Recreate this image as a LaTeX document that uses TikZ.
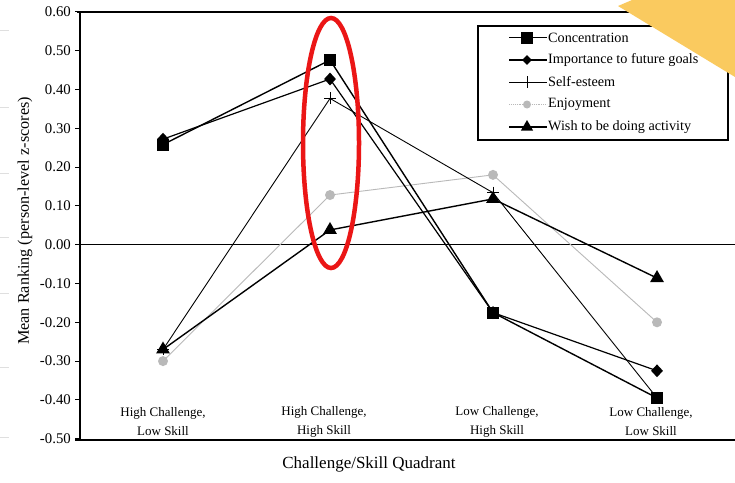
\documentclass[tikz,border=0pt]{standalone}
\usepackage{fontspec}
\setmainfont{Liberation Serif}
\usetikzlibrary{shapes.geometric}
\begin{document}
\begin{tikzpicture}[x=1pt,y=-1pt,
  sqm/.style={rectangle,fill=black,minimum size=12pt,inner sep=0pt},
  diam/.style={diamond,fill=black,minimum width=12pt,minimum height=13pt,inner sep=0pt},
  trim/.style={regular polygon,regular polygon sides=3,fill=black,minimum size=16pt,inner sep=0pt},
  enjm/.style={circle,fill=gray!55,minimum size=10pt,inner sep=0pt},
  plusm/.style={inner sep=0pt,minimum size=12pt,path picture={\draw[line width=1pt] (path picture bounding box.west)--(path picture bounding box.east) (path picture bounding box.north)--(path picture bounding box.south);}},
  conl/.style={line width=1.4pt},
  impl/.style={line width=1.2pt},
  sel/.style={line width=0.9pt},
  enjl/.style={line width=0.9pt,gray!55},
  wisl/.style={line width=1.4pt},
  axisl/.style={line width=1.3pt},
  tickl/.style={anchor=east,font=\fontsize{14.8}{15}\selectfont,inner sep=0pt},
  catl/.style={align=center,font=\fontsize{13}{19}\selectfont,inner sep=0pt},
  legt/.style={anchor=west,font=\fontsize{14.2}{15}\selectfont,inner sep=0pt}
]
\useasboundingbox (0,0) rectangle (735,482);
\fill[white] (0,0) rectangle (735,482);
% faint scan marks at left margin
\foreach \yy in {30,107,173,237,293,367,437} \draw[gray!25,line width=0.8pt] (0,\yy) -- (9,\yy);
% axes
\draw[axisl] (77,12) -- (735,12);
\draw[axisl] (80,12) -- (80,440);
\draw[axisl] (75,440) -- (735,440);
\draw[line width=1.1pt] (80,244.7) -- (735,244.7);
\foreach \v/\t in {0.6/0.60,0.5/0.50,0.4/0.40,0.3/0.30,0.2/0.20,0.1/0.10,0/0.00,-0.1/-0.10,-0.2/-0.20,-0.3/-0.30,-0.4/-0.40,-0.5/-0.50}{
  \draw[line width=1pt] (75,{244.7-388*\v}) -- (80,{244.7-388*\v});
  \node[tickl] at (71,{244.7-388*\v}) {\t};
}
% axis titles
\node[rotate=90,font=\fontsize{16.2}{17}\selectfont,inner sep=0pt] (ylab) at (25,221) {Mean Ranking (person-level z-scores)};
\node[font=\fontsize{17}{18}\selectfont,inner sep=0pt] (xlab) at (369,464) {Challenge/Skill Quadrant};
% category labels
\node[catl] (cat1) at (163,422) {High Challenge,\\Low Skill};
\node[catl] (cat2) at (324,422) {High Challenge,\\High Skill};
\node[catl] (cat3) at (497,422) {Low Challenge,\\High Skill};
\node[catl] (cat4) at (651,422) {Low Challenge,\\Low Skill};
% data coordinates
\coordinate (con1) at (163,{244.7-388*0.258});
\coordinate (con2) at (330,{244.7-388*0.476});
\coordinate (con3) at (493,{244.7-388*(-0.175)});
\coordinate (con4) at (657,{244.7-388*(-0.395)});
\coordinate (imp1) at (163,{244.7-388*0.272});
\coordinate (imp2) at (330,{244.7-388*0.427});
\coordinate (imp3) at (493,{244.7-388*(-0.175)});
\coordinate (imp4) at (657,{244.7-388*(-0.325)});
\coordinate (se1) at (163,{244.7-388*(-0.27)});
\coordinate (se2) at (330,{244.7-388*0.377});
\coordinate (se3) at (493,{244.7-388*0.134});
\coordinate (se4) at (657,{244.7-388*(-0.395)});
\coordinate (enj1) at (163,{244.7-388*(-0.30)});
\coordinate (enj2) at (330,{244.7-388*0.128});
\coordinate (enj3) at (493,{244.7-388*0.18});
\coordinate (enj4) at (657,{244.7-388*(-0.20)});
\coordinate (wis1) at (163,{244.7-388*(-0.27)});
\coordinate (wis2) at (330,{244.7-388*0.038});
\coordinate (wis3) at (493,{244.7-388*0.118});
\coordinate (wis4) at (657,{244.7-388*(-0.086)});
% series lines
\draw[enjl] (enj1) -- (enj2) -- (enj3) -- (enj4);
\draw[sel] (se1) -- (se2) -- (se3) -- (se4);
\draw[impl] (imp1) -- (imp2) -- (imp3) -- (imp4);
\draw[conl] (con1) -- (con2) -- (con3) -- (con4);
\draw[wisl] (wis1) -- (wis2) -- (wis3) -- (wis4);
% markers
\node[enjm] (menj1) at (enj1) {};
\node[enjm] (menj2) at (enj2) {};
\node[enjm] (menj3) at (enj3) {};
\node[enjm] (menj4) at (enj4) {};
\node[plusm] (mse1) at (se1) {};
\node[plusm] (mse2) at (se2) {};
\node[plusm] (mse3) at (se3) {};
\node[plusm] (mse4) at (se4) {};
\node[sqm] (mcon1) at (con1) {};
\node[sqm] (mcon2) at (con2) {};
\node[sqm] (mcon3) at (con3) {};
\node[sqm] (mcon4) at (con4) {};
\node[diam] (mimp1) at (imp1) {};
\node[diam] (mimp2) at (imp2) {};
\node[diam] (mimp3) at (imp3) {};
\node[diam] (mimp4) at (imp4) {};
\node[trim] (mwis1) at (wis1) {};
\node[trim] (mwis2) at (wis2) {};
\node[trim] (mwis3) at (wis3) {};
\node[trim] (mwis4) at (wis4) {};
% legend
\node[draw,line width=1.1pt,minimum width=250pt,minimum height=114pt,inner sep=0pt] (leg) at (603,83) {};
\coordinate (la1) at (509,37.5); \coordinate (lb1) at (547,37.5);
\coordinate (la2) at (509,60);   \coordinate (lb2) at (547,60);
\coordinate (la3) at (509,82);   \coordinate (lb3) at (547,82);
\coordinate (la4) at (509,104.5);\coordinate (lb4) at (547,104.5);
\coordinate (la5) at (509,127);  \coordinate (lb5) at (547,127);
\draw[conl] (la1) -- (lb1);
\draw[impl] (la2) -- (lb2);
\draw[sel] (la3) -- (lb3);
\draw[enjl,densely dotted] (la4) -- (lb4);
\draw[wisl] (la5) -- (lb5);
\node[sqm] (lm1) at (527,37.5) {};
\node[diam,minimum width=10pt,minimum height=10pt] (lm2) at (527,60) {};
\node[plusm] (lm3) at (527,82) {};
\node[enjm,minimum size=8pt] (lm4) at (527,104.5) {};
\node[trim,minimum size=14pt] (lm5) at (527,127) {};
\node[legt] (lt1) at (548,37.5) {Concentration};
\node[legt] (lt2) at (548,60) {Importance to future goals};
\node[legt] (lt3) at (548,82) {Self-esteem};
\node[legt] (lt4) at (548,104.5) {Enjoyment};
\node[legt] (lt5) at (548,127) {Wish to be doing activity};
% red highlight ellipse
\draw[line width=4.5pt,color={rgb,255:red,235;green,22;blue,22}] (331,143) ellipse [x radius=28pt,y radius=125pt];
% yellow note corner
\fill[color={rgb,255:red,250;green,202;blue,95}] (618,6) -- (632,0) -- (735,0) -- (735,77) -- cycle;
\end{tikzpicture}
\end{document}
